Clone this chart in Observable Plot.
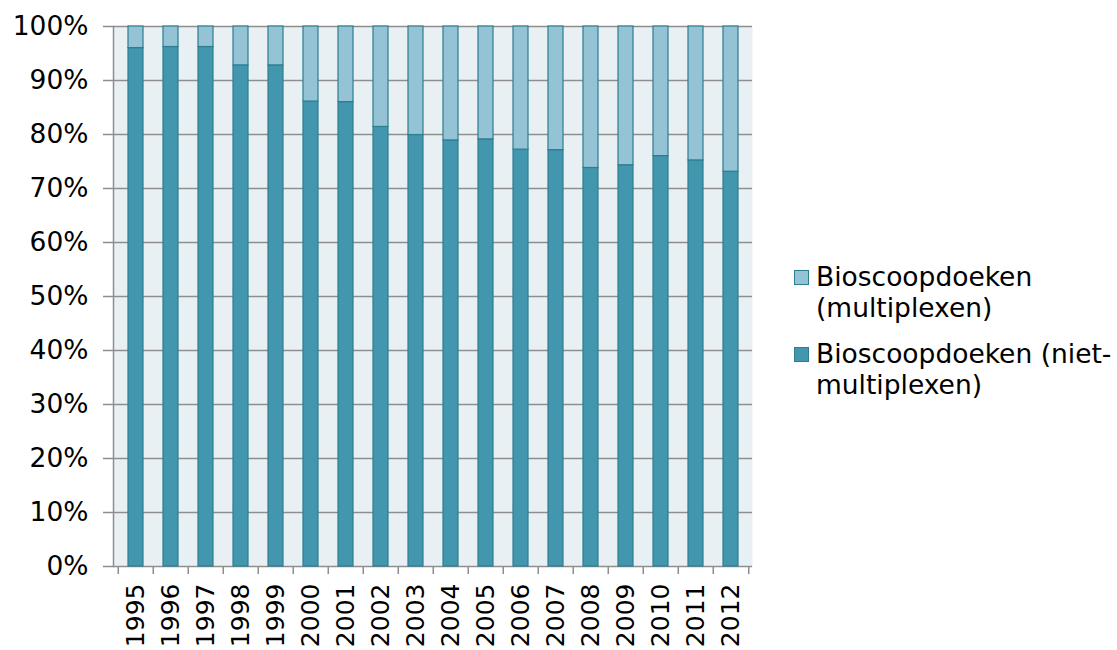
<!DOCTYPE html>
<html>
<head>
<meta charset="utf-8">
<script src="https://cdn.jsdelivr.net/npm/d3@7"></script>
<script src="https://cdn.jsdelivr.net/npm/@observablehq/plot@0.6"></script>
<style>
  body { margin: 0; background: #fff; font-family: "DejaVu Sans", Verdana, sans-serif; }
  #wrap { position: relative; width: 1117px; height: 650px; overflow: hidden; }
  #legend { position: absolute; left: 794px; top: 261px; font-size: 26.5px; color: #000; line-height: 31px; }
  .item { position: relative; padding-left: 22px; margin-bottom: 15px; }
  .sw { position: absolute; left: 0; top: 9px; width: 13px; height: 13px; border: 1px solid #2e7d90; }
</style>
</head>
<body>
<div id="wrap">
  <div id="chart"></div>
  <div id="legend"></div>
</div>
<script>
const years = ["1995","1996","1997","1998","1999","2000","2001","2002","2003","2004","2005","2006","2007","2008","2009","2010","2011","2012"];
const nietMultiplex = [96.0, 96.2, 96.2, 92.8, 92.8, 86.1, 86.0, 81.4, 79.9, 78.9, 79.1, 77.2, 77.1, 73.8, 74.3, 76.0, 75.2, 73.1];
const multiplex = [4.0, 3.8, 3.8, 7.2, 7.2, 13.9, 14.0, 18.6, 20.1, 21.1, 20.9, 22.8, 22.9, 26.2, 25.7, 24.0, 24.8, 26.9];
const seriesNames = ["Bioscoopdoeken (niet-multiplexen)", "Bioscoopdoeken (multiplexen)"];
const seriesColors = ["#4297ae", "#93c3d5"];
const yTicks = [0, 10, 20, 30, 40, 50, 60, 70, 80, 90, 100];

const rows = years.flatMap((yr, i) => [
  {year: yr, series: seriesNames[0], value: nietMultiplex[i]},
  {year: yr, series: seriesNames[1], value: multiplex[i]}
]);

const W = 1117, H = 650, mL = 113, mR = 365, mT = 26, mB = 84;
const step = (W - mL - mR) / years.length;
const grid = "#8e8e8e";
const font = "DejaVu Sans, Verdana, sans-serif";

const chart = Plot.plot({
  width: W, height: H,
  marginLeft: mL, marginRight: mR, marginTop: mT, marginBottom: mB,
  style: {fontFamily: font, fontSize: "26.5px", color: "#000", background: "transparent", overflow: "visible"},
  x: {domain: years, paddingInner: 0.58, paddingOuter: 0.29, label: null},
  y: {domain: [0, 100], label: null},
  color: {domain: seriesNames, range: seriesColors},
  marks: [
    Plot.frame({fill: "#e8f0f4", stroke: null}),
    Plot.ruleY(yTicks, {stroke: grid, strokeWidth: 1.5}),
    Plot.frame({anchor: "left", stroke: grid, strokeWidth: 1.5}),
    Plot.barY(rows, {x: "year", y: "value", fill: "series", order: seriesNames, stroke: "#2e7d90", strokeWidth: 1.2}),
    Plot.axisY({ticks: yTicks, tickFormat: d => d + "%", tickSize: 10, tickPadding: 15, stroke: grid, strokeWidth: 1.5, fontSize: 26.5, label: null}),
    Plot.axisX({tickSize: 8, tickFormat: () => "", dx: -step / 2, stroke: grid, strokeWidth: 1.5, label: null}),
    Plot.axisX({ticks: [years[years.length - 1]], tickSize: 8, tickFormat: () => "", dx: step / 2, stroke: grid, strokeWidth: 1.5, label: null}),
    Plot.axisX({tickSize: 0, tickRotate: -90, tickPadding: 17, fontSize: 25, label: null})
  ]
});
document.getElementById("chart").appendChild(chart);

const legendItems = [
  {name: seriesNames[1], color: seriesColors[1], lines: ["Bioscoopdoeken", "(multiplexen)"]},
  {name: seriesNames[0], color: seriesColors[0], lines: ["Bioscoopdoeken (niet-", "multiplexen)"]}
];
const legend = document.getElementById("legend");
for (const it of legendItems) {
  const d = document.createElement("div");
  d.className = "item";
  const sw = document.createElement("span");
  sw.className = "sw";
  sw.style.background = it.color;
  d.appendChild(sw);
  it.lines.forEach((l, i) => {
    if (i) d.appendChild(document.createElement("br"));
    d.appendChild(document.createTextNode(l));
  });
  legend.appendChild(d);
}
</script>
</body>
</html>
